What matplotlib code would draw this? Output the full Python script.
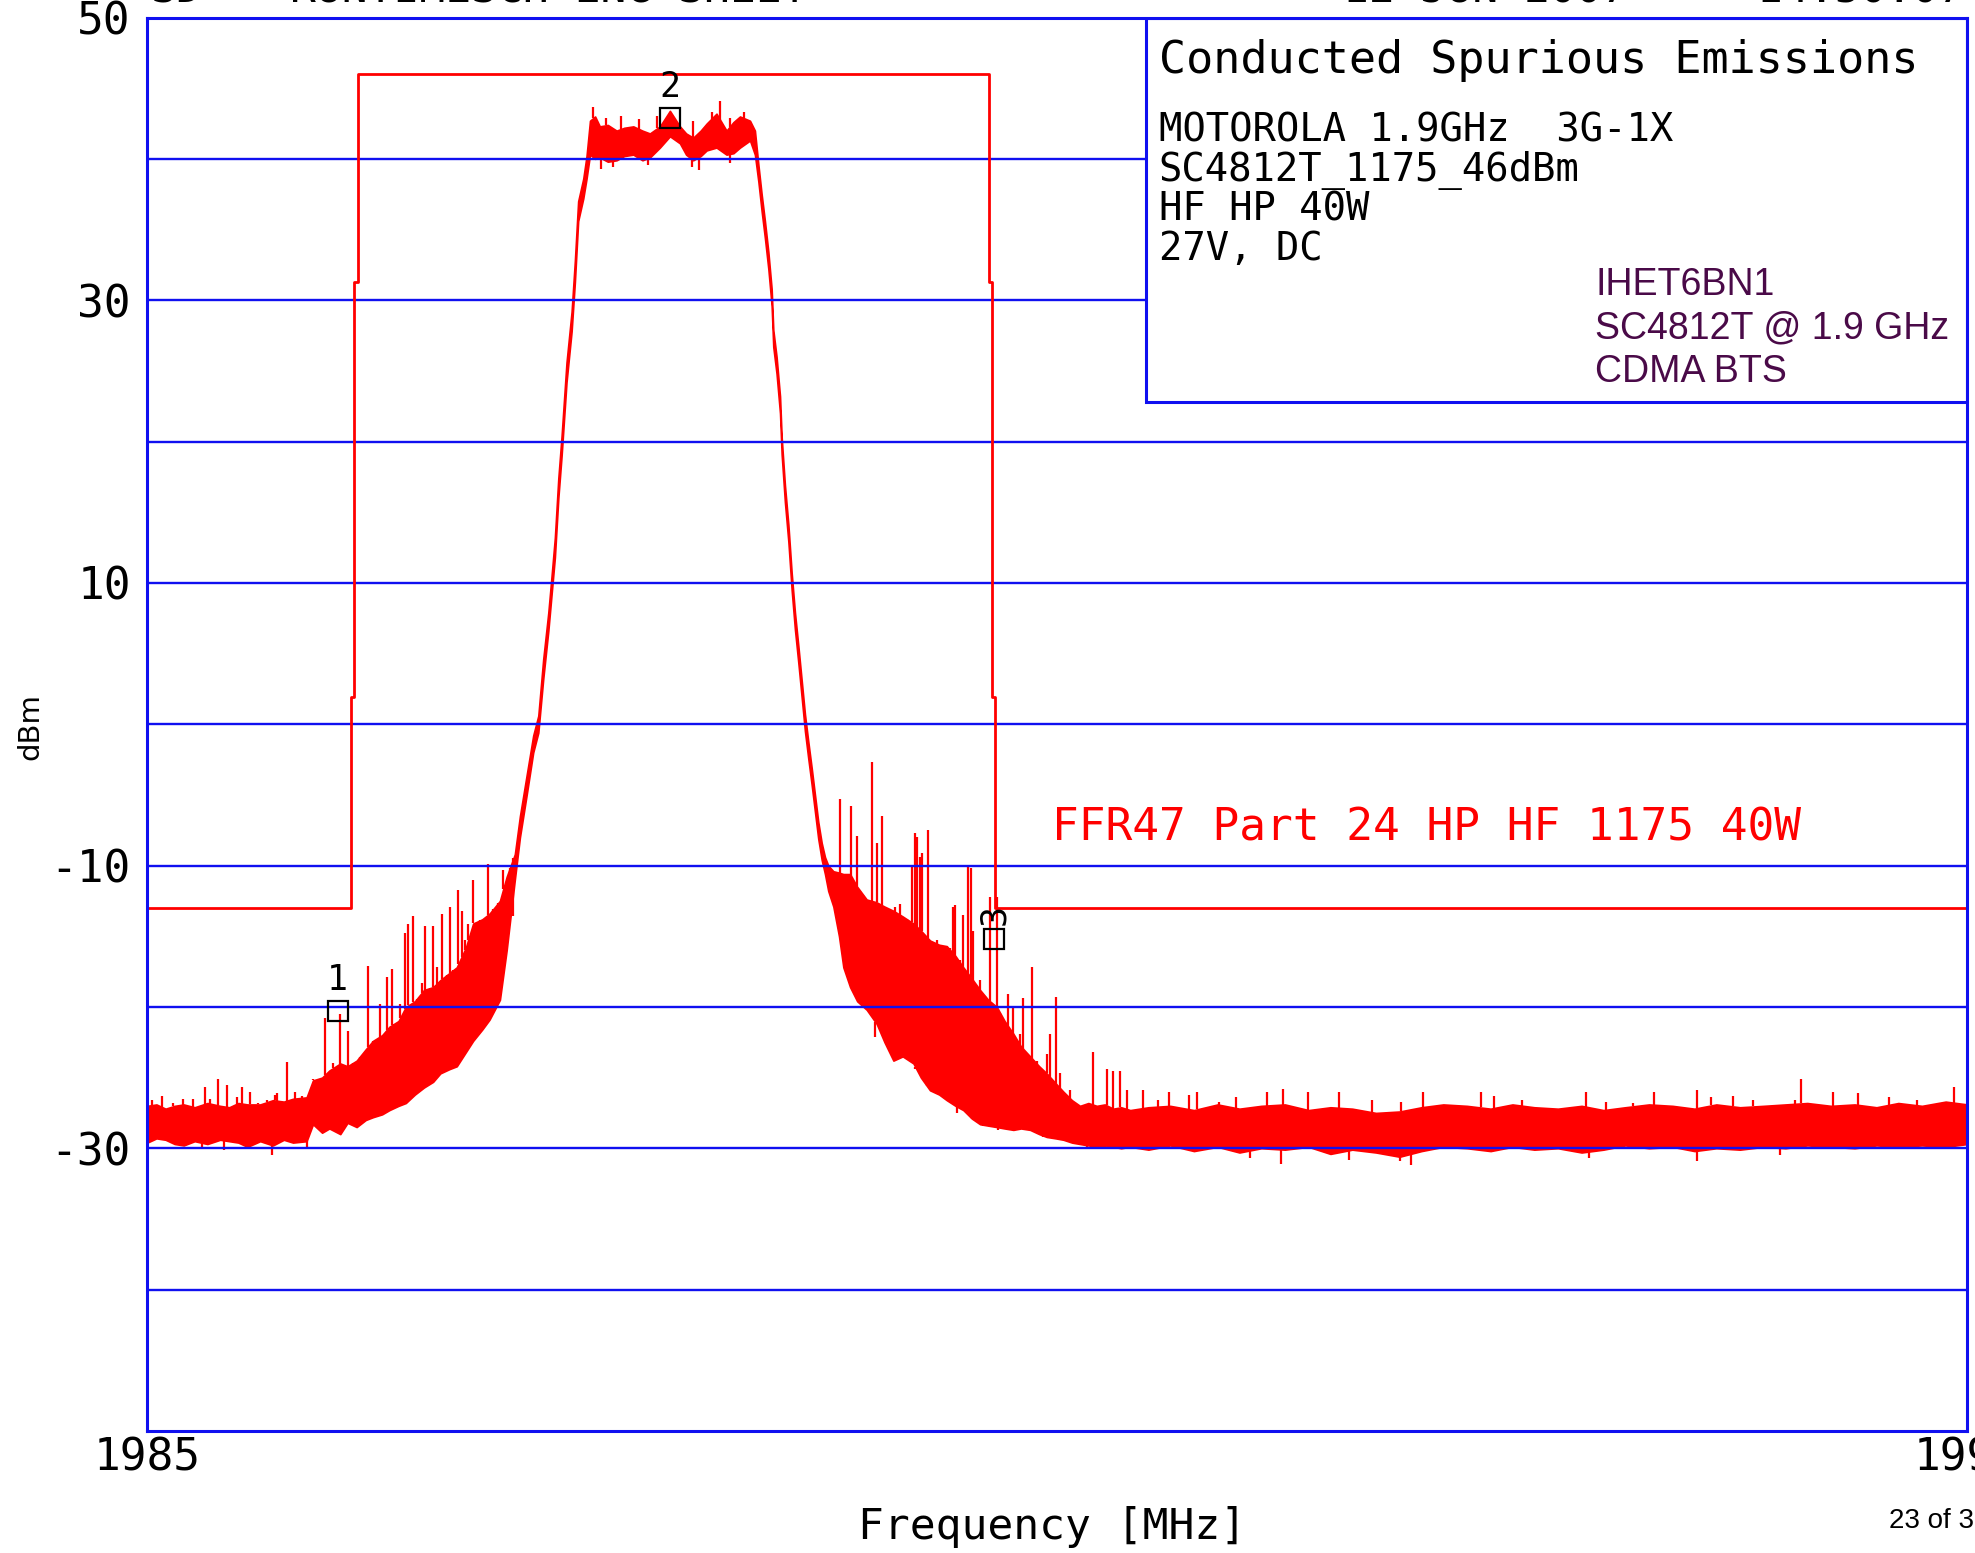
import numpy as np
import matplotlib.pyplot as plt
from matplotlib.patches import Rectangle

# ── DATA ────────────────────────────────────────────────────────────────────────
# trace envelope: frequency [MHz], lower / upper edge of the noisy trace [dBm]
env_freq = [1985.000, 1985.050, 1985.100, 1985.150, 1985.200, 1985.260, 1985.330, 1985.400,
            1985.450, 1985.500, 1985.550, 1985.620, 1985.690, 1985.750, 1985.800, 1985.875,
            1985.910, 1985.960, 1986.000, 1986.060, 1986.100, 1986.150, 1986.200, 1986.240,
            1986.290, 1986.330, 1986.380, 1986.420, 1986.470, 1986.520, 1986.570, 1986.610,
            1986.660, 1986.700, 1986.750, 1986.790, 1986.840, 1986.880, 1986.937, 1986.974,
            1987.019,
            1987.047, 1987.084, 1987.120, 1987.148, 1987.175, 1987.203, 1987.221, 1987.239,
            1987.258, 1987.276, 1987.303, 1987.331, 1987.349, 1987.367, 1987.395, 1987.413,
            1987.432,
            1987.460, 1987.486, 1987.530, 1987.578, 1987.620, 1987.670, 1987.720, 1987.761,
            1987.816, 1987.871, 1987.926, 1987.960, 1987.999, 1988.040, 1988.073, 1988.127,
            1988.182, 1988.220, 1988.256, 1988.311, 1988.338,
            1988.357, 1988.375, 1988.393, 1988.412, 1988.430, 1988.439, 1988.457, 1988.476,
            1988.485, 1988.503, 1988.522, 1988.540, 1988.558, 1988.577, 1988.595, 1988.613,
            1988.631, 1988.650, 1988.668, 1988.686, 1988.705, 1988.723,
            1988.741, 1988.769, 1988.800, 1988.824, 1988.861, 1988.900, 1988.952, 1989.007,
            1989.050, 1989.099, 1989.150, 1989.209, 1989.250, 1989.300, 1989.350, 1989.392,
            1989.440, 1989.483, 1989.530, 1989.575, 1989.620, 1989.667, 1989.710, 1989.758,
            1989.800, 1989.850, 1989.900, 1989.941, 1989.990, 1990.033, 1990.080, 1990.124,
            1990.170, 1990.216, 1990.260, 1990.307, 1990.350, 1990.400,
            1990.500, 1990.620, 1990.750, 1990.880, 1991.000, 1991.120, 1991.250, 1991.380,
            1991.500, 1991.620, 1991.750, 1991.880, 1992.000, 1992.120, 1992.250, 1992.380,
            1992.500, 1992.620, 1992.750, 1992.880, 1993.000, 1993.120, 1993.250, 1993.380,
            1993.500, 1993.620, 1993.750, 1993.880, 1994.000, 1994.120, 1994.250, 1994.380,
            1994.500, 1994.620, 1994.750, 1994.880, 1995.000]
env_lo = [-29.6, -29.3, -29.4, -29.7, -29.8, -29.5, -29.7, -29.4,
          -29.5, -29.6, -29.9, -29.5, -29.8, -29.4, -29.6, -29.5,
          -28.3, -28.9, -28.6, -29.0, -28.2, -28.5, -28.0, -27.8,
          -27.6, -27.3, -27.0, -26.8, -26.2, -25.7, -25.3, -24.7,
          -24.4, -24.2, -23.2, -22.4, -21.6, -20.9, -19.5, -16.0,
          -11.0,
          -8.0, -5.0, -2.0, -0.6, 3.2, 6.6, 9.2, 11.8,
          16.0, 19.0, 24.2, 27.8, 31.3, 35.6, 37.2, 38.6,
          40.3,
          40.0, 40.1, 39.8, 39.9, 40.2, 40.3, 39.9, 40.1,
          40.8, 41.6, 41.1, 40.3, 39.9, 40.2, 40.6, 40.8,
          40.3, 40.4, 40.8, 41.3, 40.3,
          38.4, 36.3, 34.4, 32.2, 29.6, 26.7, 24.8, 22.0,
          19.1, 15.7, 12.9, 9.5, 6.7, 4.3, 1.9, -0.5,
          -2.4, -4.3, -6.2, -8.1, -9.6, -10.6,
          -11.8, -12.9, -15.0, -17.2, -18.6, -19.6, -20.2, -21.2,
          -22.5, -23.8, -23.5, -24.0, -25.0, -25.9, -26.2, -26.6,
          -27.0, -27.3, -27.9, -28.3, -28.4, -28.5, -28.6, -28.7,
          -28.6, -28.7, -29.0, -29.2, -29.3, -29.4, -29.6, -29.7,
          -29.8, -29.9, -29.8, -29.9, -30.0, -29.9,
          -30.1, -29.8, -30.2, -29.9, -30.3, -30.0, -30.1, -29.9,
          -30.4, -30.1, -30.3, -30.6, -30.2, -29.9, -30.0, -30.2,
          -29.9, -30.1, -30.0, -30.3, -30.1, -29.8, -30.0, -29.9,
          -30.2, -30.0, -30.1, -29.9, -30.0, -29.8, -29.9, -30.0,
          -29.8, -29.9, -29.8, -29.9, -29.7]
env_hi = [-27.0, -26.9, -27.2, -27.0, -26.9, -27.1, -26.8, -27.0,
          -27.1, -26.8, -26.9, -26.9, -26.6, -26.7, -26.5, -26.4,
          -25.2, -25.0, -24.5, -24.0, -24.2, -23.8, -23.0, -22.4,
          -22.0, -21.4, -21.0, -20.0, -19.6, -18.8, -18.6, -18.1,
          -17.6, -17.2, -15.8, -14.1, -13.8, -13.4, -12.5, -10.8,
          -9.2,
          -6.5, -3.6, -0.8, 0.6, 4.6, 7.9, 10.5, 13.2,
          17.4, 20.4, 25.6, 29.2, 32.8, 37.0, 38.6, 40.2,
          42.7,
          43.0, 42.3, 42.4, 42.0, 42.2, 42.3, 42.0, 41.8,
          42.3, 43.4, 42.3, 41.8, 41.5, 42.0, 42.5, 43.2,
          42.0, 42.6, 43.0, 42.7, 42.0,
          39.6, 37.5, 35.6, 33.4, 30.8, 27.9, 26.0, 23.2,
          20.3, 16.9, 14.1, 10.7, 7.9, 5.5, 3.1, 0.7,
          -1.2, -3.1, -5.0, -6.9, -8.4, -9.4,
          -10.0, -10.4, -10.5, -10.6, -10.6, -11.5, -12.4, -12.6,
          -12.9, -13.2, -13.6, -14.1, -14.6, -15.3, -15.6, -15.7,
          -16.4, -17.2, -18.0, -18.8, -19.5, -20.0, -21.0, -21.9,
          -22.8, -23.5, -24.2, -24.7, -25.4, -26.0, -26.6, -27.0,
          -26.8, -27.0, -26.9, -27.2, -27.1, -27.3,
          -27.1, -27.0, -27.3, -26.9, -27.2, -27.0, -26.9, -27.3,
          -27.1, -27.2, -27.5, -27.4, -27.1, -26.9, -27.0, -27.2,
          -26.9, -27.1, -27.2, -27.0, -27.3, -27.1, -26.9, -27.0,
          -27.2, -26.9, -27.1, -27.0, -26.9, -26.8, -27.0, -26.9,
          -27.1, -26.8, -27.0, -26.7, -26.9]

# spurs sticking up out of the trace
spike_freq = [1985.000, 1985.024, 1985.078, 1985.142, 1985.197, 1985.252, 1985.316, 1985.344,
              1985.390, 1985.440, 1985.490, 1985.518, 1985.564, 1985.610, 1985.655, 1985.700,
              1985.710, 1985.747, 1985.765, 1985.811, 1985.847,
              1985.912, 1985.948, 1985.976, 1986.022, 1986.058, 1986.104, 1986.132, 1986.168,
              1986.210, 1986.241, 1986.278, 1986.315, 1986.342, 1986.351, 1986.388, 1986.415,
              1986.434, 1986.461, 1986.479, 1986.507, 1986.525, 1986.553, 1986.571, 1986.589,
              1986.617, 1986.644, 1986.663, 1986.681, 1986.708, 1986.727, 1986.745, 1986.763,
              1986.791, 1986.809, 1986.827, 1986.873, 1986.901, 1986.928, 1986.956, 1986.992,
              1987.011,
              1987.447, 1987.520, 1987.600, 1987.700, 1987.800, 1988.000, 1988.100, 1988.146,
              1988.200, 1988.280,
              1988.806, 1988.868, 1988.897, 1988.916, 1988.934, 1988.961, 1988.980, 1989.007,
              1989.038, 1989.062, 1989.090, 1989.108, 1989.135, 1989.172, 1989.199, 1989.218,
              1989.227, 1989.245, 1989.254, 1989.287, 1989.337, 1989.355, 1989.373, 1989.410,
              1989.428, 1989.438, 1989.465, 1989.480, 1989.511, 1989.524, 1989.538, 1989.575,
              1989.602, 1989.630, 1989.667, 1989.685, 1989.731, 1989.758, 1989.795, 1989.813,
              1989.862, 1989.886, 1989.941, 1989.959, 1989.993, 1990.014, 1990.069, 1990.198,
              1990.271, 1990.307, 1990.344, 1990.381,
              1990.472, 1990.555, 1990.615, 1990.722, 1990.768, 1990.890, 1990.982, 1991.150,
              1991.241, 1991.379, 1991.547, 1991.730, 1991.887, 1992.009, 1992.325, 1992.401,
              1992.554, 1992.905, 1993.012, 1993.165, 1993.280, 1993.515, 1993.592, 1993.714,
              1993.821, 1994.050, 1994.086, 1994.263, 1994.400, 1994.568, 1994.721, 1994.926]
spike_db = [-10.0, -26.6, -26.3, -26.8, -26.5, -26.5, -25.7, -26.5,
            -25.1, -25.5, -26.4, -25.7, -26.0, -26.8, -26.6, -26.2,
            -26.1, -26.8, -23.9, -26.0, -26.3,
            -25.1, -25.0, -20.8, -24.0, -20.5, -21.7, -24.2, -23.8,
            -17.1, -22.8, -19.8, -17.9, -17.3, -22.8, -19.8, -14.8,
            -14.1, -13.6, -20.0, -18.3, -14.3, -19.5, -14.3, -17.2,
            -13.4, -18.3, -12.9, -21.4, -11.7, -13.2, -15.3, -14.1,
            -11.0, -16.0, -14.8, -9.9, -14.8, -17.2, -10.3, -10.8,
            -13.6,
            43.7, 42.9, 43.0, 42.8, 43.0, 42.7, 43.3, 44.1,
            42.9, 43.3,
            -5.3, -5.8, -7.9, -13.9, -14.0, -12.4, -2.7, -8.4,
            -6.5, -13.4, -14.3, -12.9, -12.7, -13.9, -10.1, -7.7,
            -8.0, -9.4, -9.1, -7.5, -15.3, -15.8, -16.2, -15.8,
            -12.9, -12.8, -16.7, -13.5, -10.1, -10.2, -14.6, -18.1,
            -20.0, -12.2, -12.2, -21.9, -19.1, -20.0, -21.9, -19.4,
            -17.2, -23.8, -23.3, -21.9, -19.3, -24.7, -25.9, -23.2,
            -24.4, -24.5, -24.5, -25.9,
            -25.9, -26.6, -26.0, -26.2, -26.0, -26.7, -26.4, -26.0,
            -25.8, -26.0, -26.0, -26.6, -26.7, -26.0, -26.0, -26.3,
            -26.6, -26.0, -26.7, -26.8, -26.0, -25.9, -26.4, -26.3,
            -26.6, -26.6, -25.1, -26.0, -26.1, -26.4, -26.6, -25.7]

# dips below the trace
dip_freq = [1985.298, 1985.420, 1985.683, 1985.875, 1987.490, 1987.560, 1987.750, 1987.990,
            1988.030, 1988.200, 1988.861, 1988.998, 1989.099, 1989.218, 1989.282, 1989.318,
            1989.447, 1989.529, 1989.593, 1989.676, 1989.740, 1989.923, 1990.161, 1990.262,
            1991.060, 1991.226, 1991.600, 1991.880, 1991.943, 1992.920, 1993.515, 1993.970]
dip_db = [-29.9, -30.1, -30.5, -30.0, 39.3, 39.4, 39.6, 39.4,
          39.2, 39.7, -18.6, -22.1, -23.8, -24.4, -24.4, -25.9,
          -27.5, -27.9, -28.4, -28.7, -28.7, -29.2, -29.9, -30.0,
          -30.7, -31.1, -30.8, -30.9, -31.2, -30.7, -30.9, -30.5]

# FCC limit mask
mask_freq = [1985.0, 1986.118, 1986.118, 1986.135, 1986.135, 1986.156, 1986.156,
             1989.626, 1989.626, 1989.639, 1989.639, 1989.657, 1989.657, 1995.0]
mask_db = [-13.0, -13.0, 1.9, 1.9, 31.3, 31.3, 46.0,
           46.0, 31.3, 31.3, 1.9, 1.9, -13.0, -13.0]

marker_freq = [1986.045, 1987.871, 1989.650]
marker_db = [-20.3, 42.9, -15.2]
marker_label = ['1', '2', '3']

grid_db = [-40, -30, -20, -10, 0, 10, 20, 30, 40]
ytick_db = [-30, -10, 10, 30, 50]
xtick_freq = [1985, 1995]

info_title = 'Conducted Spurious Emissions'
info_lines = ['MOTOROLA 1.9GHz  3G-1X', 'SC4812T_1175_46dBm', 'HF HP 40W', '27V, DC']
note_lines = ['IHET6BN1', 'SC4812T @ 1.9 GHz', 'CDMA BTS']
mask_text = 'FFR47 Part 24 HP HF 1175 40W'

# ── STYLE ───────────────────────────────────────────────────────────────────────
RED = '#ff0000'
BLUE = '#1010f0'
MONO = 'DejaVu Sans Mono'

fig = plt.figure(figsize=(19.75, 15.53), dpi=100)
ax = fig.add_axes([0.0746, 0.0786, 0.9216, 0.9101])

# ── TRACE ───────────────────────────────────────────────────────────────────────
ax.fill_between(env_freq, env_lo, env_hi, color=RED, lw=1.2, zorder=1)
ax.vlines(spike_freq, np.interp(spike_freq, env_freq, env_hi), spike_db,
          color=RED, lw=1.6, zorder=1)
ax.vlines(dip_freq, dip_db, np.interp(dip_freq, env_freq, env_lo),
          color=RED, lw=1.6, zorder=1)

# grid on top of the trace
for g in grid_db:
    ax.axhline(g, color=BLUE, lw=1.7, zorder=2)

ax.plot(mask_freq, mask_db, color=RED, lw=2.0, zorder=3)

# markers
ax.plot(marker_freq, marker_db, 's', mfc='none', mec='black', ms=14, mew=1.6, zorder=5)
for f, d, lab in zip(marker_freq, marker_db, marker_label):
    rot = 90 if lab == '3' else 0
    ax.annotate(lab, (f, d), xytext=(0, 10), textcoords='offset points',
                ha='center', va='bottom', fontsize=25, family=MONO,
                rotation=rot, zorder=5)

# ── AXES ────────────────────────────────────────────────────────────────────────
ax.set_xlim(1985, 1995)
ax.set_ylim(-50, 50)
ax.set_xticks(xtick_freq)
ax.set_xticklabels([str(v) for v in xtick_freq])
ax.set_yticks(ytick_db)
ax.set_yticklabels([str(v) for v in ytick_db])
ax.tick_params(length=0, labelsize=32)
ax.tick_params(axis='y', pad=12)
ax.tick_params(axis='x', pad=4)
for lbl in ax.get_xticklabels() + ax.get_yticklabels():
    lbl.set_family(MONO)
for s in ax.spines.values():
    s.set_color(BLUE)
    s.set_linewidth(2.2)
    s.set_zorder(6)

fig.text(0.5325, 0.009, 'Frequency [MHz]', ha='center', va='baseline',
         fontsize=31, family=MONO)
fig.text(0.0152, 0.532, 'dBm', rotation=90, ha='center', va='center', fontsize=21)

# ── INFO BOX ────────────────────────────────────────────────────────────────────
ax.add_patch(Rectangle((0.5489, 0.7282), 0.4511, 0.2718, transform=ax.transAxes,
                       facecolor='white', edgecolor=BLUE, lw=2.2, zorder=4))
fig.text(0.5866, 0.953, info_title, ha='left', va='baseline', fontsize=32.5,
         family=MONO, zorder=7)
for i, line in enumerate(info_lines):
    fig.text(0.5866, 0.9086 - i * 0.0254, line, ha='left', va='baseline',
             fontsize=28, family=MONO, zorder=7)
for i, line in enumerate(note_lines):
    fig.text(0.8076, 0.810 - i * 0.0279, line, ha='left', va='baseline',
             fontsize=27, family='Liberation Sans', color='#4a0a48', zorder=7)

fig.text(0.5327, 0.4585, mask_text, ha='left', va='baseline', fontsize=32,
         family=MONO, color=RED)

# page number and cut-off header of the original printout
fig.text(0.9565, 0.0161, '23 of 35', ha='left', va='baseline', fontsize=20,
         family='Liberation Sans')
fig.text(0.076, 0.9985, 'SD', ha='left', va='baseline', fontsize=31, family=MONO)
fig.text(0.147, 0.9985, 'RUNTIMESCH ENG SHEET', ha='left', va='baseline',
         fontsize=31, family=MONO)
fig.text(0.68, 0.9985, '12 JUN 2007     14:50:07', ha='left', va='baseline',
         fontsize=31, family=MONO)

fig.savefig('out.png', dpi=100)
